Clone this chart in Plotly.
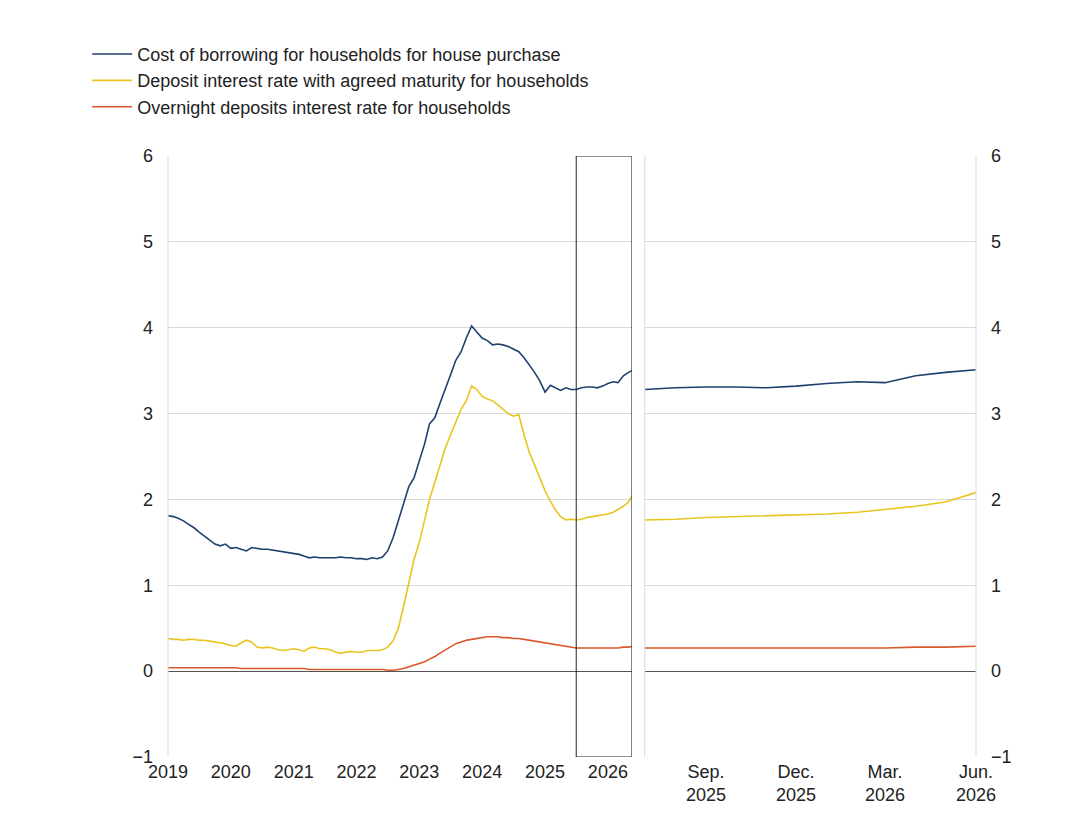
import plotly.graph_objects as go
import pandas as pd

dates = pd.date_range("2019-01-01", "2026-06-01", freq="MS")
borrow = [1.81,1.80,1.78,1.75,1.71,1.67,1.62,1.57,1.52,1.48,1.46,1.48,
          1.43,1.44,1.42,1.40,1.44,1.43,1.42,1.42,1.41,1.40,1.39,1.38,
          1.37,1.36,1.34,1.32,1.33,1.32,1.32,1.32,1.32,1.33,1.32,1.32,
          1.31,1.31,1.30,1.32,1.31,1.33,1.40,1.55,1.75,1.95,2.15,2.25,
          2.45,2.65,2.88,2.95,3.12,3.30,3.45,3.62,3.72,3.88,4.02,3.95,
          3.88,3.85,3.80,3.81,3.80,3.78,3.75,3.72,3.65,3.57,3.48,3.38,
          3.25,3.33,3.30,3.27,3.30,3.28,3.28,3.30,3.31,3.31,3.30,3.32,
          3.35,3.37,3.36,3.44,3.48,3.51]
deposit = [0.38,0.37,0.37,0.36,0.37,0.37,0.36,0.36,0.35,0.34,0.33,0.32,
           0.30,0.29,0.33,0.36,0.34,0.28,0.27,0.28,0.27,0.25,0.24,0.25,
           0.26,0.25,0.23,0.27,0.28,0.26,0.26,0.25,0.22,0.21,0.22,0.23,
           0.22,0.22,0.24,0.24,0.24,0.25,0.28,0.35,0.50,0.75,1.05,1.30,
           1.50,1.75,2.00,2.20,2.40,2.60,2.75,2.90,3.05,3.15,3.32,3.28,
           3.20,3.17,3.15,3.10,3.05,3.00,2.97,2.99,2.75,2.55,2.40,2.25,
           2.10,1.98,1.88,1.80,1.76,1.77,1.76,1.77,1.79,1.80,1.81,1.82,
           1.83,1.85,1.88,1.92,1.97,2.08]
overnight = [0.04]*12 + [0.04,0.04,0.03,0.03,0.03,0.03,0.03,0.03,0.03,0.03,0.03,0.03,
           0.03,0.03,0.03,0.02,0.02,0.02,0.02,0.02,0.02,0.02,0.02,0.02,
           0.02,0.02,0.02,0.02,0.02,0.02,0.01,0.01,0.02,0.03,0.05,0.07,
           0.09,0.11,0.14,0.17,0.21,0.25,0.29,0.32,0.34,0.36,0.37,0.38,
           0.39,0.40,0.40,0.40,0.39,0.39,0.38,0.38,0.37,0.36,0.35,0.34,
           0.33,0.32,0.31,0.30,0.29,0.28,0.27,0.27,0.27,0.27,0.27,0.27,
           0.27,0.27,0.27,0.28,0.28,0.29]
names = ["Cost of borrowing for households for house purchase",
         "Deposit interest rate with agreed maturity for households",
         "Overnight deposits interest rate for households"]
colors = ["#1f3f6e", "#e8c520", "#d9572b"]
year_ticks = [f"{y}-01-01" for y in range(2019, 2027)]
year_labels = [str(y) for y in range(2019, 2027)]
zoom_ticks = ["2025-09-01", "2025-12-01", "2026-03-01", "2026-06-01"]
zoom_labels = ["Sep.<br>2025", "Dec.<br>2025", "Mar.<br>2026", "Jun.<br>2026"]

fig = go.Figure()
for s, n, c in zip([borrow, deposit, overnight], names, colors):
    fig.add_trace(go.Scatter(x=dates, y=s, name=n, mode="lines",
                             line=dict(color=c, width=1.6), xaxis="x", yaxis="y"))
    z = [(d, v) for d, v in zip(dates, s) if d >= pd.Timestamp("2025-07-01")]
    fig.add_trace(go.Scatter(x=[a for a, _ in z], y=[b for _, b in z], mode="lines",
                             line=dict(color=c, width=1.6), showlegend=False,
                             xaxis="x2", yaxis="y2"))

yax = dict(range=[-1, 6], tickvals=list(range(-1, 7)),
           ticktext=["\u22121"] + [str(i) for i in range(0, 7)],
           showgrid=True, gridcolor="#d9d9d9", zeroline=True, zerolinecolor="#555",
           zerolinewidth=1, ticks="", showline=False, automargin=False,
           ticklabelstandoff=14)
xax = dict(showgrid=False, ticks="", automargin=False, ticklabelstandoff=2, type="date")
fig.update_layout(
    width=1080, height=838, plot_bgcolor="white", paper_bgcolor="white",
    font=dict(family="Liberation Sans, Arial", size=18, color="#222"),
    margin=dict(l=160, r=112, t=148, b=89),
    xaxis=dict(domain=[0, 0.574], range=["2019-01-01", "2026-05-20"],
               tickvals=year_ticks, ticktext=year_labels, **xax),
    xaxis2=dict(domain=[0.59, 1], range=["2025-07-01", "2026-06-01"],
                tickvals=zoom_ticks, ticktext=zoom_labels, **xax),
    yaxis=dict(anchor="x", **yax),
    yaxis2=dict(anchor="x2", side="right", **yax),
    legend=dict(x=-0.1, y=1.2, xanchor="left", yanchor="top", bgcolor="rgba(0,0,0,0)",
                font=dict(size=18), tracegroupgap=4, itemwidth=40),
    showlegend=True,
    shapes=[
        dict(type="rect", xref="x", yref="y", x0="2025-07-01", x1="2026-05-20",
             y0=-1, y1=6, line=dict(color="#222", width=1)),
        dict(type="line", xref="paper", yref="paper", x0=0, x1=0, y0=0, y1=1,
             line=dict(color="#d9d9d9", width=1)),
        dict(type="line", xref="paper", yref="paper", x0=0.59, x1=0.59, y0=0, y1=1,
             line=dict(color="#d9d9d9", width=1)),
        dict(type="line", xref="paper", yref="paper", x0=1, x1=1, y0=0, y1=1,
             line=dict(color="#d9d9d9", width=1)),
    ],
)
fig.write_html("out.html")
